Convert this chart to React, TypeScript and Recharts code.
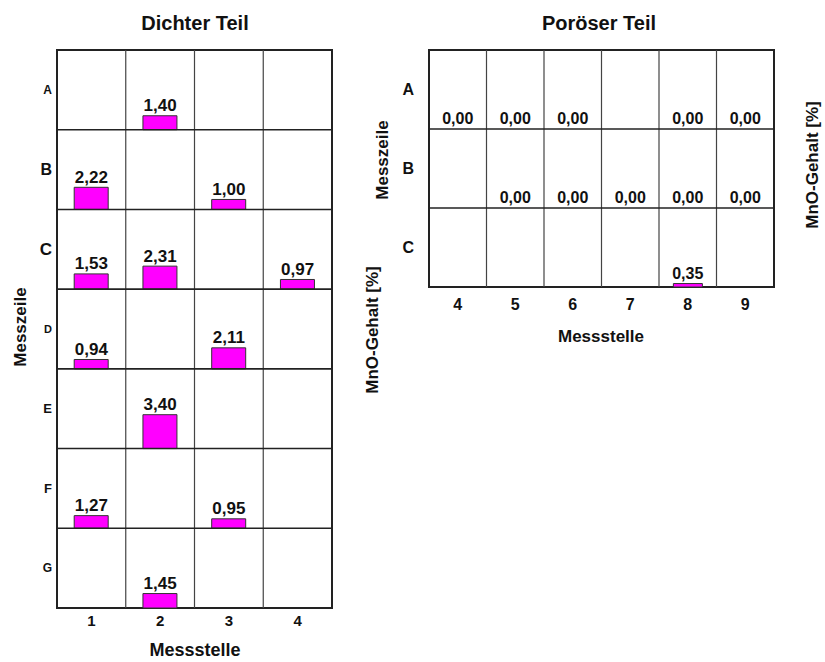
import React from 'react';
import {
  ComposedChart, Bar, Scatter, XAxis, YAxis, ZAxis, ReferenceLine, ReferenceArea, LabelList,
} from 'recharts';

const FONT = '"Liberation Sans", Arial, Helvetica, sans-serif';
// one Messzeile row spans 8 units of MnO-Gehalt [%] on the value scale
const ROW_UNITS = 8;

// Dichter Teil: MnO-Gehalt [%] per Messzeile (rows) and Messstelle (cols), null = no sample
const denseCols = [1, 2, 3, 4];
const denseRows = ['A', 'B', 'C', 'D', 'E', 'F', 'G'];
const denseValues: (number | null)[][] = [
  [null, 1.4, null, null],
  [2.22, null, 1.0, null],
  [1.53, 2.31, null, 0.97],
  [0.94, null, 2.11, null],
  [null, 3.4, null, null],
  [1.27, null, 0.95, null],
  [null, 1.45, null, null],
];

// Poröser Teil
const porousCols = [4, 5, 6, 7, 8, 9];
const porousRows = ['A', 'B', 'C'];
const porousValues: (number | null)[][] = [
  [0, 0, 0, null, 0, 0],
  [null, 0, 0, 0, 0, 0],
  [null, null, null, null, 0.35, null],
];

// the scanned original prints its row letters in uneven sizes
const denseRowFont: Record<string, number> = { A: 12, B: 16, C: 17, D: 11, E: 13, F: 13, G: 12 };

const fmt = (v: number) => v.toFixed(2).replace('.', ',');

type Cell = { col: number; row: string; v: number; top: number; txt: string; range: [number, number] };

const toCells = (rows: string[], cols: number[], values: (number | null)[][]): Cell[] =>
  rows.flatMap((row, r) => {
    const base = (rows.length - 1 - r) * ROW_UNITS;
    return cols.flatMap((col, c) => {
      const v = values[r][c];
      if (v == null) return [];
      return [{ col, row, v, top: base + v, txt: fmt(v), range: [base, base + v] as [number, number] }];
    });
  });

interface PanelProps {
  rows: string[];
  cols: number[];
  values: (number | null)[][];
  width: number;
  height: number;
  margin: { top: number; right: number; bottom: number; left: number };
  yAxisWidth: number;
  rowFont: (label: string) => number;
  colFont: number;
  valueFont: number;
  yTickSize: number;
  yTickMargin: number;
  xTickMargin: number;
}

const Panel: React.FC<PanelProps> = (p) => {
  const cells = toCells(p.rows, p.cols, p.values);
  const n = p.rows.length;
  const rowCenters = p.rows.map((_, r) => (n - 1 - r) * ROW_UNITS + ROW_UNITS / 2);
  const rowLines = p.rows.slice(1).map((_, i) => (i + 1) * ROW_UNITS);
  const colLines = p.cols.slice(1).map((c) => c - 0.5);
  const xMin = p.cols[0] - 0.5;
  const xMax = p.cols[p.cols.length - 1] + 0.5;
  const rowOf = (v: number) => p.rows[n - 1 - Math.floor(v / ROW_UNITS)];

  const RowTick = (t: any) => {
    const label = rowOf(t.payload.value);
    return (
      <text x={t.x} y={t.y} dy="0.36em" textAnchor="end" fontFamily={FONT} fontWeight="bold"
        fontSize={p.rowFont(label)} fill="#111">
        {label}
      </text>
    );
  };

  return (
    <ComposedChart width={p.width} height={p.height} data={cells} margin={p.margin} barCategoryGap="25%">
      <XAxis
        dataKey="col"
        type="number"
        domain={[xMin, xMax]}
        ticks={p.cols}
        interval={0}
        height={30}
        axisLine={false}
        tickLine={false}
        tickMargin={p.xTickMargin}
        tick={{ fill: '#111', fontSize: p.colFont, fontWeight: 'bold', fontFamily: FONT }}
      />
      <YAxis
        type="number"
        domain={[0, n * ROW_UNITS]}
        ticks={rowCenters}
        interval={0}
        width={p.yAxisWidth}
        axisLine={false}
        tickLine={false}
        tickSize={p.yTickSize}
        tickMargin={p.yTickMargin}
        tick={<RowTick />}
      />
      <ZAxis range={[1, 1]} />
      {colLines.map((x) => (
        <ReferenceLine key={`c${x}`} x={x} stroke="#444" strokeWidth={1.2} />
      ))}
      {rowLines.map((y) => (
        <ReferenceLine key={`r${y}`} y={y} stroke="#222" strokeWidth={1.6} />
      ))}
      <ReferenceArea x1={xMin} x2={xMax} y1={0} y2={n * ROW_UNITS} fill="none" stroke="#222" strokeWidth={2} />
      <Bar dataKey="range" fill="#ff00ff" stroke="#333" strokeWidth={1} isAnimationActive={false} />
      {/* value labels sit on an invisible point at the bar top, so 0,00 cells get one too */}
      <Scatter dataKey="top" shape={() => <g />} isAnimationActive={false}>
        <LabelList
          dataKey="txt"
          position="top"
          offset={4}
          style={{ fill: '#111', fontSize: p.valueFont, fontWeight: 'bold', fontFamily: FONT }}
        />
      </Scatter>
    </ComposedChart>
  );
};

const textBase: React.CSSProperties = {
  position: 'absolute',
  fontFamily: FONT,
  fontWeight: 'bold',
  color: '#111',
  whiteSpace: 'nowrap',
  lineHeight: 1,
};

const Txt: React.FC<{ x: number; y: number; size: number; rotate?: boolean; children: React.ReactNode }> = ({ x, y, size, rotate, children }) => (
  <div
    style={{
      ...textBase,
      left: x,
      top: y,
      fontSize: size,
      transform: `translate(-50%, -50%)${rotate ? ' rotate(-90deg)' : ''}`,
    }}
  >
    {children}
  </div>
);

export default function App() {
  return (
    <div style={{ position: 'absolute', left: 0, top: 0, width: 825, height: 662, background: '#fff', overflow: 'hidden' }}>
      <div style={{ position: 'absolute', left: 0, top: 0 }}>
        <Panel
          rows={denseRows}
          cols={denseCols}
          values={denseValues}
          width={340}
          height={662}
          margin={{ top: 50, right: 8, bottom: 24, left: 27 }}
          yAxisWidth={30}
          rowFont={(l) => denseRowFont[l] ?? 13}
          colFont={15}
          valueFont={17}
          yTickSize={3}
          yTickMargin={2}
          xTickMargin={1}
        />
      </div>
      <div style={{ position: 'absolute', left: 340, top: 0 }}>
        <Panel
          rows={porousRows}
          cols={porousCols}
          values={porousValues}
          width={485}
          height={350}
          margin={{ top: 50, right: 51, bottom: 33, left: 49 }}
          yAxisWidth={40}
          rowFont={() => 16}
          colFont={16}
          valueFont={16}
          yTickSize={6}
          yTickMargin={9}
          xTickMargin={6}
        />
      </div>
      <Txt x={195} y={23} size={20}>Dichter Teil</Txt>
      <Txt x={599} y={23} size={20}>Poröser Teil</Txt>
      <Txt x={195} y={650} size={18}>Messstelle</Txt>
      <Txt x={601} y={336} size={17}>Messstelle</Txt>
      <Txt x={20} y={327} size={17} rotate>Messzeile</Txt>
      <Txt x={382} y={160} size={17} rotate>Messzeile</Txt>
      <Txt x={372} y={330} size={17} rotate>MnO-Gehalt [%]</Txt>
      <Txt x={812} y={165} size={17} rotate>MnO-Gehalt [%]</Txt>
    </div>
  );
}
